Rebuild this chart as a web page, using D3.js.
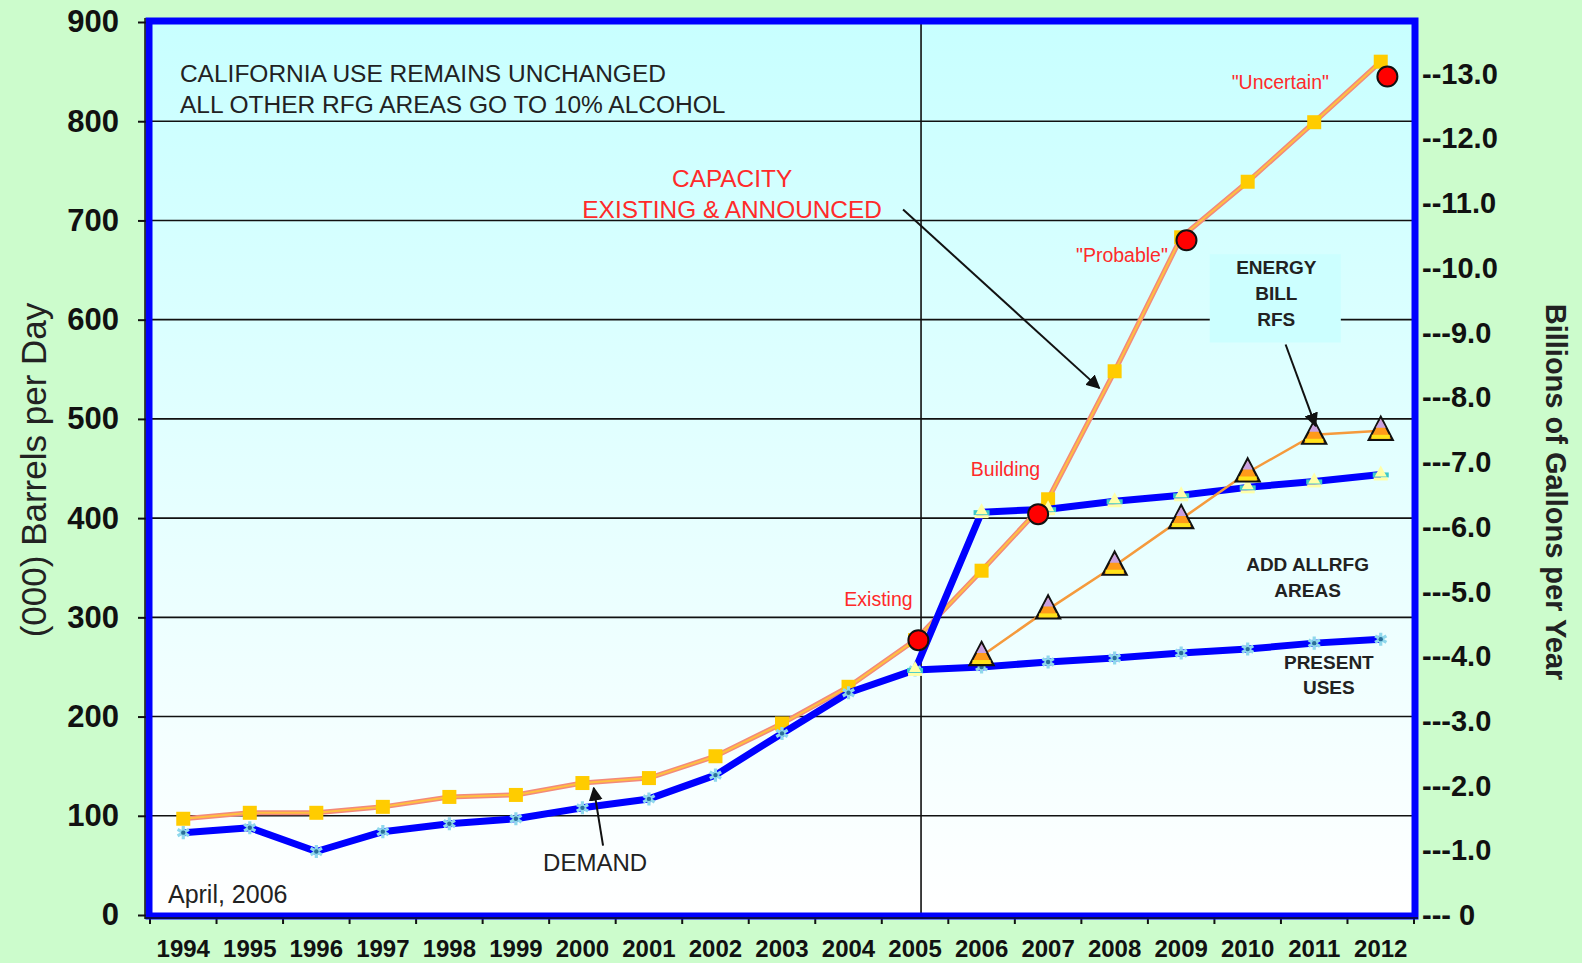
<!DOCTYPE html>
<html>
<head>
    <script src="https://d3js.org/d3.v7.min.js" charset="utf-8"></script>
    <style>
        body { margin: 0; background: #ccfccc; }
        svg { font-family: Arial, "Liberation Sans", sans-serif; display: block; }
        .grid line { stroke: #111; stroke-width: 1.6; }
        .ann { fill: #222; }
        .red { fill: #ff2a2a; }
    </style>
</head>
<body>
<script>
    // data, (000) barrels per day
    var years = ["1994", "1995", "1996", "1997", "1998", "1999", "2000", "2001", "2002", "2003",
        "2004", "2005", "2006", "2007", "2008", "2009", "2010", "2011", "2012"];
    var capacity = [97, 103, 103, 109, 119, 121, 133, 138, 160, 193, 230, 277, 347, 419, 548, 683, 739, 799, 860];
    var demand = [83, 88, 64, 84, 92, 97, 108, 117, 141, 183, 224, 247, 250, 255, 259, 264, 268, 274, 278];
    var rfsYears = ["2005", "2006", "2007", "2008", "2009", "2010", "2011", "2012"];
    var rfs = [247, 406, 409, 417, 423, 431, 437, 444];
    var rfgYears = ["2006", "2007", "2008", "2009", "2010", "2011", "2012"];
    var rfg = [261, 308, 352, 399, 446, 484, 488];
    var stageYears = [2005.05, 2006.85, 2009.08, 2012.1];
    var stageValues = [277, 404, 680, 845];
    var leftTicks = [0, 100, 200, 300, 400, 500, 600, 700, 800, 900];
    var rightTicks = [0, 1, 2, 3, 4, 5, 6, 7, 8, 9, 10, 11, 12, 13];

    var W = 1582, H = 963;
    var margin = { top: 22, right: 168, bottom: 48, left: 150 },
        width = W - margin.left - margin.right,
        height = H - margin.top - margin.bottom;

    var svg = d3.select("body").append("svg")
        .attr("width", W)
        .attr("height", H);

    var defs = svg.append("defs");
    var grad = defs.append("linearGradient").attr("id", "bg")
        .attr("x1", 0).attr("y1", 0).attr("x2", 0).attr("y2", 1);
    grad.append("stop").attr("offset", "0%").attr("stop-color", "#c8ffff");
    grad.append("stop").attr("offset", "100%").attr("stop-color", "#ffffff");

    var g = svg.append("g")
        .attr("transform", "translate(" + margin.left + "," + margin.top + ")");

    var x = d3.scaleBand().domain(years).range([0, width]);
    var bw = x.bandwidth();
    var xc = function (yr) { return x(yr) + bw / 2; };
    var xLin = d3.scaleLinear().domain([1994, 2012]).range([xc("1994"), xc("2012")]);
    var y = d3.scaleLinear().domain([0, 900]).range([height, 0]);
    // 1000 b/d = 42 * 365 / 1e6 billion gallons a year
    var yR = d3.scaleLinear().domain([0, 900 * 42 * 365 / 1e6]).range([height, 0]);

    g.append("rect")
        .attr("width", width).attr("height", height)
        .attr("fill", "url(#bg)");

    // gridlines
    g.append("g").attr("class", "grid")
        .selectAll("line").data(leftTicks.slice(1, -1)).enter()
        .append("line")
        .attr("x1", 0).attr("x2", width)
        .attr("y1", function (d) { return y(d); })
        .attr("y2", function (d) { return y(d); });

    // 2005 divider
    g.append("line")
        .attr("x1", xLin(2005.09)).attr("x2", xLin(2005.09))
        .attr("y1", 0).attr("y2", height)
        .attr("stroke", "#111").attr("stroke-width", 1.6);

    // left axis
    var yAxis = d3.axisLeft(y).tickValues(leftTicks).tickSize(8).tickPadding(19);
    var ya = g.append("g").call(yAxis);
    ya.select(".domain").remove();
    ya.selectAll("line").attr("stroke", "#111").attr("stroke-width", 2).attr("transform", "translate(-4,0)");
    ya.selectAll("text").attr("font-size", 31).attr("font-weight", "bold")
        .attr("fill", "#111").attr("font-family", "Arial, 'Liberation Sans', sans-serif")
        .attr("transform", "translate(-4,0)");

    // bottom axis, ticks between categories
    var xa = g.append("g").attr("transform", "translate(0," + height + ")");
    xa.selectAll("line").data(years.concat(["end"])).enter().append("line")
        .attr("x1", function (d, i) { return i * bw; })
        .attr("x2", function (d, i) { return i * bw; })
        .attr("y1", 0).attr("y2", 9)
        .attr("stroke", "#111").attr("stroke-width", 2);
    xa.selectAll("text").data(years).enter().append("text")
        .attr("x", function (d) { return xc(d); })
        .attr("y", 42)
        .attr("text-anchor", "middle")
        .attr("font-size", 24).attr("font-weight", "bold").attr("fill", "#111")
        .text(function (d) { return d; });

    // right axis (billions of gallons per year)
    g.append("g").attr("transform", "translate(" + (width + 8) + ",0)")
        .selectAll("text").data(rightTicks).enter().append("text")
        .attr("x", 0)
        .attr("y", function (d) { return yR(d); })
        .attr("dy", "0.35em")
        .attr("font-size", 29).attr("font-weight", "bold").attr("fill", "#111")
        .text(function (d) {
            if (d === 0) return "--- 0";
            return (d >= 10 ? "--" : "---") + d.toFixed(1);
        });

    // axis titles
    svg.append("text")
        .attr("transform", "translate(46,470) rotate(-90)")
        .attr("text-anchor", "middle")
        .attr("font-size", 35).attr("fill", "#222")
        .text("(000) Barrels per Day");
    svg.append("text")
        .attr("transform", "translate(1546,492) rotate(90)")
        .attr("text-anchor", "middle")
        .attr("font-size", 29).attr("font-weight", "bold").attr("fill", "#222")
        .text("Billions of Gallons per Year");

    var line = d3.line()
        .x(function (d) { return xc(d.yr); })
        .y(function (d) { return y(d.v); });

    var capData = years.map(function (yr, i) { return { yr: yr, v: capacity[i] }; });
    var demData = years.map(function (yr, i) { return { yr: yr, v: demand[i] }; });
    var rfsData = rfsYears.map(function (yr, i) { return { yr: yr, v: rfs[i] }; });
    var rfgData = rfgYears.map(function (yr, i) { return { yr: yr, v: rfg[i] }; });

    // capacity line: salmon edged orange
    g.append("path").datum(capData).attr("d", line)
        .attr("fill", "none").attr("stroke", "#f38a7a").attr("stroke-width", 5);
    g.append("path").datum(capData).attr("d", line)
        .attr("fill", "none").attr("stroke", "#ffc040").attr("stroke-width", 2);
    g.selectAll(".sq").data(capData).enter().append("rect")
        .attr("class", "sq")
        .attr("x", function (d) { return xc(d.yr) - 7; })
        .attr("y", function (d) { return y(d.v) - 7; })
        .attr("width", 14).attr("height", 14)
        .attr("fill", "#ffcc00");

    // demand and energy bill lines
    g.append("path").datum(demData).attr("d", line)
        .attr("fill", "none").attr("stroke", "#0000ff").attr("stroke-width", 7)
        .attr("stroke-linejoin", "round");
    g.append("path").datum(rfsData).attr("d", line)
        .attr("fill", "none").attr("stroke", "#0000ff").attr("stroke-width", 7)
        .attr("stroke-linejoin", "round");

    var star = d3.symbol().type(d3.symbolAsterisk).size(120);
    g.selectAll(".dm").data(demData).enter().append("path")
        .attr("class", "dm")
        .attr("transform", function (d) { return "translate(" + xc(d.yr) + "," + y(d.v) + ")"; })
        .attr("d", star)
        .attr("fill", "none").attr("stroke", "#8fd8ec").attr("stroke-width", 3.2);
    g.selectAll(".dm2").data(demData).enter().append("circle")
        .attr("class", "dm2")
        .attr("cx", function (d) { return xc(d.yr); })
        .attr("cy", function (d) { return y(d.v); })
        .attr("r", 2.2).attr("fill", "#2a6f9a");

    // energy bill markers: pale triangle over teal bar
    var rm = g.selectAll(".rm").data(rfsData).enter().append("g")
        .attr("class", "rm")
        .attr("transform", function (d) { return "translate(" + xc(d.yr) + "," + y(d.v) + ")"; });
    rm.append("rect").attr("x", -8).attr("y", -2).attr("width", 16).attr("height", 5).attr("fill", "#3cc8c8");
    rm.append("path").attr("d", "M0,-9L6,2L-6,2Z").attr("fill", "#ffffa8");
    rm.append("rect").attr("x", -7).attr("y", 3).attr("width", 14).attr("height", 3).attr("fill", "#ffffa8");

    // add all RFG areas line
    g.append("path").datum(rfgData).attr("d", line)
        .attr("fill", "none").attr("stroke", "#f59a3c").attr("stroke-width", 2.5);
    var tri = g.selectAll(".tri").data(rfgData).enter().append("g")
        .attr("class", "tri")
        .attr("transform", function (d) { return "translate(" + xc(d.yr) + "," + y(d.v) + ")"; });
    tri.append("path").attr("d", "M0,-14L12,9L-12,9Z")
        .attr("fill", "#ff9a1a").attr("stroke", "#111").attr("stroke-width", 2.2);
    tri.append("path").attr("d", "M0,-12L5,-3L-5,-3Z").attr("fill", "#c9a0e0");
    tri.append("rect").attr("x", -9).attr("y", 4).attr("width", 18).attr("height", 4).attr("fill", "#ffe21a");

    // stage markers on capacity line
    g.selectAll(".stage").data(stageYears).enter().append("circle")
        .attr("class", "stage")
        .attr("cx", function (d) { return xLin(d); })
        .attr("cy", function (d, i) { return y(stageValues[i]); })
        .attr("r", 10)
        .attr("fill", "#ff0000").attr("stroke", "#111").attr("stroke-width", 2);

    // energy bill box
    g.append("rect")
        .attr("x", xLin(2009.43)).attr("y", y(666))
        .attr("width", xLin(2011.4) - xLin(2009.43))
        .attr("height", y(577) - y(666))
        .attr("fill", "#ccffff");

    // annotation text, placed in data coordinates
    var notes = [
        { t: "Existing", yr: 2004.45, v: 318, size: 19.5, cls: "red", anchor: "middle" },
        { t: "Building", yr: 2006.36, v: 449, size: 19.5, cls: "red", anchor: "middle" },
        { t: "\"Probable\"", yr: 2008.11, v: 665, size: 19.5, cls: "red", anchor: "middle" },
        { t: "\"Uncertain\"", yr: 2010.49, v: 839, size: 19.5, cls: "red", anchor: "middle" },
        { t: "CAPACITY", yr: 2002.25, v: 742, size: 24.4, cls: "red", anchor: "middle" },
        { t: "EXISTING & ANNOUNCED", yr: 2002.25, v: 711, size: 24.4, cls: "red", anchor: "middle" },
        { t: "CALIFORNIA USE REMAINS UNCHANGED", yr: 1993.95, v: 848, size: 24.5, cls: "ann", anchor: "start" },
        { t: "ALL OTHER RFG AREAS GO TO 10% ALCOHOL", yr: 1993.95, v: 817, size: 24.5, cls: "ann", anchor: "start" },
        { t: "ENERGY", yr: 2010.43, v: 653, size: 19, cls: "ann", anchor: "middle", bold: true },
        { t: "BILL", yr: 2010.43, v: 627, size: 19, cls: "ann", anchor: "middle", bold: true },
        { t: "RFS", yr: 2010.43, v: 600, size: 19, cls: "ann", anchor: "middle", bold: true },
        { t: "ADD ALLRFG", yr: 2010.9, v: 353, size: 19, cls: "ann", anchor: "middle", bold: true },
        { t: "AREAS", yr: 2010.9, v: 327, size: 19, cls: "ann", anchor: "middle", bold: true },
        { t: "PRESENT", yr: 2011.22, v: 255, size: 19, cls: "ann", anchor: "middle", bold: true },
        { t: "USES", yr: 2011.22, v: 229, size: 19, cls: "ann", anchor: "middle", bold: true },
        { t: "DEMAND", yr: 2000.19, v: 53, size: 24, cls: "ann", anchor: "middle" },
        { t: "April, 2006", yr: 1993.77, v: 21, size: 25, cls: "ann", anchor: "start" }
    ];

    g.selectAll(".note").data(notes).enter().append("text")
        .attr("class", function (d) { return "note " + d.cls; })
        .attr("x", function (d) { return xLin(d.yr); })
        .attr("y", function (d) { return y(d.v); })
        .attr("dy", "0.35em")
        .attr("text-anchor", function (d) { return d.anchor; })
        .attr("font-size", function (d) { return d.size; })
        .attr("font-weight", function (d) { return d.bold ? "bold" : "normal"; })
        .text(function (d) { return d.t; });

    // arrows
    defs.append("marker").attr("id", "arr")
        .attr("viewBox", "0 0 10 10").attr("refX", 9).attr("refY", 5)
        .attr("markerWidth", 14).attr("markerHeight", 14)
        .attr("markerUnits", "userSpaceOnUse")
        .attr("orient", "auto")
        .append("path").attr("d", "M0,0L10,5L0,10Z").attr("fill", "#111");

    var arrows = [
        { from: [2004.82, 711], to: [2007.77, 531] },
        { from: [2010.57, 575], to: [2011.02, 493] },
        { from: [2000.31, 70], to: [2000.17, 128] }
    ];
    g.selectAll(".arrow").data(arrows).enter().append("line")
        .attr("class", "arrow")
        .attr("x1", function (d) { return xLin(d.from[0]); })
        .attr("y1", function (d) { return y(d.from[1]); })
        .attr("x2", function (d) { return xLin(d.to[0]); })
        .attr("y2", function (d) { return y(d.to[1]); })
        .attr("stroke", "#111").attr("stroke-width", 2)
        .attr("marker-end", "url(#arr)");

    // blue frame with black axis lines
    g.append("rect")
        .attr("x", -1).attr("y", -1)
        .attr("width", width + 2).attr("height", height + 2)
        .attr("fill", "none").attr("stroke", "#0000ff").attr("stroke-width", 7);
    g.append("line").attr("x1", -5).attr("x2", -5).attr("y1", -4).attr("y2", height + 4)
        .attr("stroke", "#111").attr("stroke-width", 1.5);
    g.append("line").attr("x1", -5).attr("x2", width + 4).attr("y1", height + 3).attr("y2", height + 3)
        .attr("stroke", "#111").attr("stroke-width", 1.5);
</script>
</body>
</html>
